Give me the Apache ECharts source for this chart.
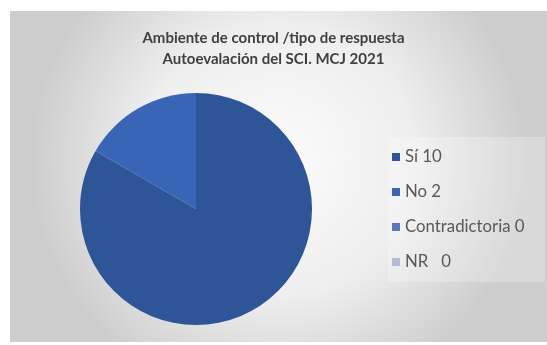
<!DOCTYPE html>
<html>
<head>
<meta charset="utf-8">
<script src="https://cdn.jsdelivr.net/npm/echarts@6/dist/echarts.min.js"></script>
<style>html,body{margin:0;padding:0;background:#fff}#c{width:547px;height:345px}</style>
</head>
<body>
<div id="c"></div>
<script>
var titleLines = ['Ambiente de control /tipo de respuesta', 'Autoevalación del SCI. MCJ 2021'];
var categories = ['Sí', 'No', 'Contradictoria', 'NR'];
var legendLabels = ['Sí 10', 'No 2', 'Contradictoria 0', 'NR   0'];
var values = [10, 2, 0, 0];
var colors = ['#2E5597', '#3865B5', '#5B79B8', '#B4BCD2'];

var chart = echarts.init(document.getElementById('c'), null, {renderer: 'canvas'});
var data = categories.map(function (c, i) {
  return {name: legendLabels[i], value: values[i], itemStyle: {color: colors[i]}};
});
chart.setOption({
  backgroundColor: '#ffffff',
  animation: false,
  graphic: [
    {type: 'rect', z: -10, shape: {x: 10, y: 11, width: 537, height: 331},
     style: {fill: new echarts.graphic.RadialGradient(0.5, 0.45, 0.75, [
       {offset: 0, color: '#FBFBFB'}, {offset: 0.55, color: '#EEEEEE'}, {offset: 1, color: '#CDCDCD'}])}},
    {type: 'rect', z: -9, shape: {x: 388, y: 137, width: 157, height: 145},
     style: {fill: 'rgba(255,255,255,0.25)'}}
  ],
  title: {
    text: titleLines.join('\n'),
    left: 'center', top: 28, padding: 0,
    textStyle: {fontFamily: 'Lato', fontWeight: 'bold', fontSize: 15, color: '#404040', lineHeight: 21}
  },
  legend: {
    orient: 'vertical',
    left: 392, top: 147, padding: 0,
    itemWidth: 8, itemHeight: 8, itemGap: 15,
    icon: 'rect',
    textStyle: {fontFamily: 'Lato', fontSize: 16.8, lineHeight: 20, color: '#595959'},
    data: legendLabels
  },
  series: [{
    type: 'pie',
    center: [196, 209],
    radius: 116,
    startAngle: 90,
    clockwise: true,
    label: {show: false},
    labelLine: {show: false},
    stillShowZeroSum: true,
    data: data
  }]
});
</script>
</body>
</html>
